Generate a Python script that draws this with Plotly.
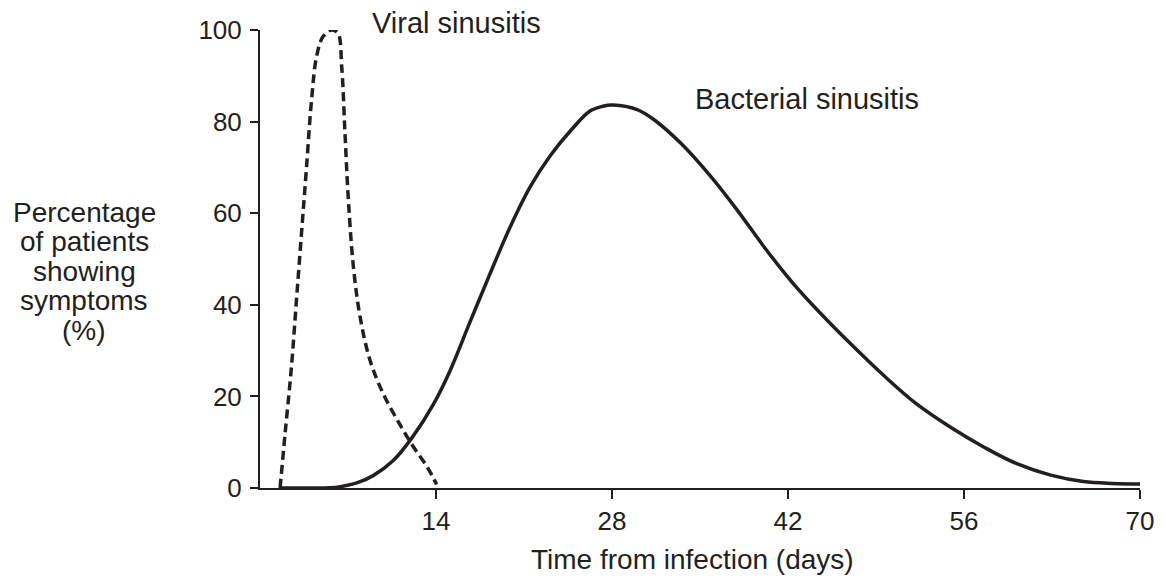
import plotly.graph_objects as go

# Viral sinusitis (dashed)
viral_days = [1.6, 2.0, 2.5, 2.9, 3.3, 3.7, 4.1, 4.5, 5.0, 5.7, 6.2, 6.5, 6.76, 7.03, 7.43, 7.96, 8.75, 9.8, 11.1, 12.2, 13.3, 14.05]
viral_pct = [0, 12, 26.4, 41, 55.6, 70, 84.7, 94.2, 98.5, 100, 99.3, 92, 77.5, 62.9, 48.3, 37.4, 27.9, 20.6, 14, 9, 4.6, 0.8]

# Bacterial sinusitis (solid)
bact_days = [1.6, 4.0, 5.5, 6.4, 7.7, 9.0, 10.6, 12.1, 13.8, 15.1, 16.7, 18.3, 19.9, 21.5, 23.1, 24.7, 26.25, 27.2, 28.1, 30.0, 31.4, 33.5, 35.8, 37.9, 40.3, 42.4, 44.6, 46.9, 49.6, 52.2, 54.9, 57.6, 60.2, 62.9, 65.5, 67.8, 70]
bact_pct = [0, 0, 0.05, 0.3, 1.1, 2.7, 6.0, 11.0, 18.3, 25.5, 36.2, 46.8, 57, 65.8, 72.6, 78.0, 82.3, 83.3, 83.6, 82.6, 80.3, 75.2, 68.2, 60.9, 51.9, 44.7, 38.1, 31.7, 24.6, 18.4, 13.3, 8.9, 5.3, 2.8, 1.4, 1.0, 0.9]

x_ticks = [14, 28, 42, 56, 70]
y_ticks = [0, 20, 40, 60, 80, 100]
y_title_lines = ["Percentage", "of patients", "showing", "symptoms", "(%)"]

INK = "#231f20"
FONT = "Liberation Sans, Arial, Helvetica, sans-serif"

fig = go.Figure()
fig.add_trace(go.Scatter(x=viral_days, y=viral_pct, mode="lines", line_shape="spline",
                         line=dict(color=INK, width=3.5, dash="9px,5px"), cliponaxis=False,
                         showlegend=False, hoverinfo="skip"))
fig.add_trace(go.Scatter(x=bact_days, y=bact_pct, mode="lines", line_shape="spline",
                         line=dict(color=INK, width=3.5), cliponaxis=False,
                         showlegend=False, hoverinfo="skip"))

def note(text, x, y, xanchor="left", size=29):
    return dict(text=text, x=x, y=y, xref="paper", yref="paper", xanchor=xanchor,
                yanchor="middle", showarrow=False, font=dict(size=size, color=INK, family=FONT))

PW, PH = 880.0, 458.0   # plot area size in px
annotations = [
    note("Viral sinusitis", (370 - 260) / PW, (488 - 23) / PH),
    note("Bacterial sinusitis", (693 - 260) / PW, (488 - 99) / PH),
    note("Time from infection (days)", (692 - 260) / PW, (488 - 559) / PH, xanchor="center", size=28),
]
baselines = [222, 251.5, 281, 310.5, 340]
for line, b in zip(y_title_lines, baselines):
    annotations.append(note(line, (84 - 260) / PW, (488 - (b - 10)) / PH, xanchor="center", size=28))

fig.update_layout(
    width=1150, height=567,
    margin=dict(l=252, r=18, t=22, b=87),
    paper_bgcolor="white", plot_bgcolor="white",
    font=dict(family=FONT, color=INK, size=26),
    annotations=annotations,
    xaxis=dict(range=[0, 70], tickvals=x_ticks, ticktext=[str(v) for v in x_ticks],
               showline=True, linecolor=INK, linewidth=2, ticks="outside", ticklen=9,
               tickwidth=2, tickcolor=INK, showgrid=False, zeroline=False, automargin=False,
               tickfont=dict(size=26, color=INK)),
    yaxis=dict(range=[0, 100], tickvals=y_ticks, showline=True, linecolor=INK, linewidth=2,
               ticks="outside", ticklen=8, tickwidth=2, tickcolor=INK, showgrid=False,
               zeroline=False, automargin=False, tickfont=dict(size=26, color=INK),
               ticklabelstandoff=3),
)

fig.write_html("out.html")
